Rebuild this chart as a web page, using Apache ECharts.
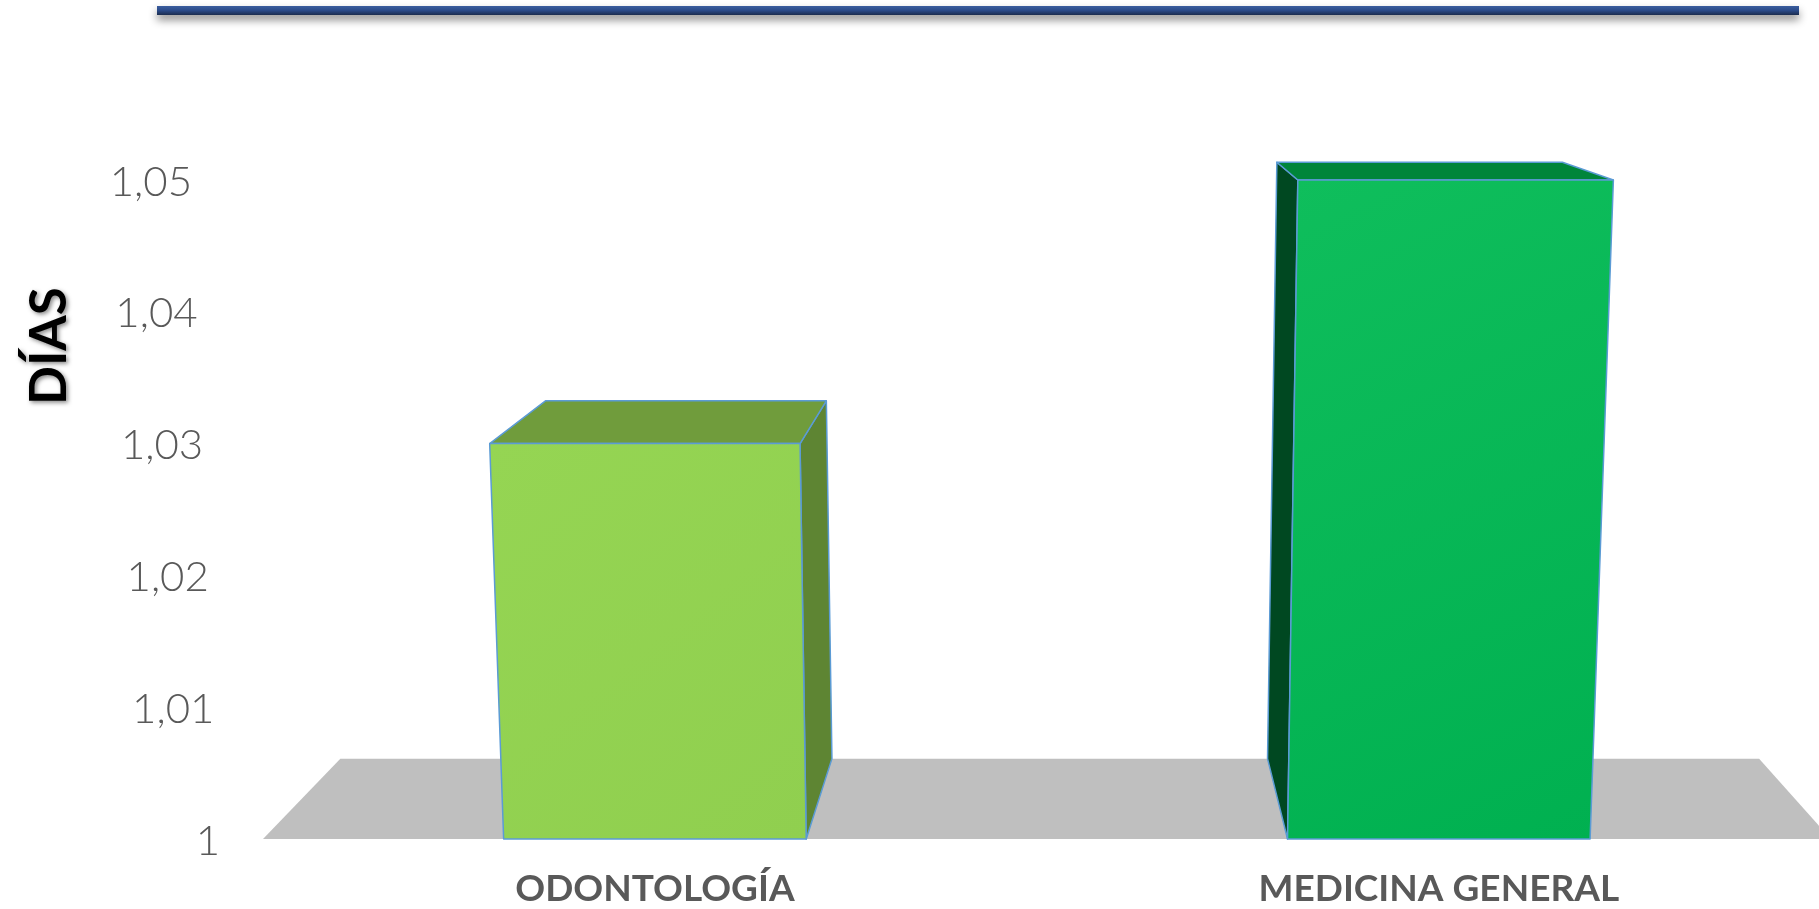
<!DOCTYPE html>
<html>
<head>
<meta charset="utf-8">
<title>Días</title>
<script src="https://cdn.jsdelivr.net/npm/echarts@6/dist/echarts.min.js"></script>
<style>
  html, body { margin: 0; padding: 0; background: #ffffff; overflow: hidden; }
  #chart { width: 1819px; height: 909px; }
</style>
</head>
<body>
<div id="chart"></div>
<script>
// Categories and values (days)
const categories = ['ODONTOLOGÍA', 'MEDICINA GENERAL'];
const values = [1.03, 1.05];
const yTickLabels = ['1', '1,01', '1,02', '1,03', '1,04', '1,05'];
const yMin = 1, yMax = 1.05, yStep = 0.01;

// Box colours per category: front, top, side
const frontTop = ['#95D553', '#0FBE5C'];
const frontBottom = ['#90CF4F', '#00B050'];
const topColor = ['#709C3C', '#00853A'];
const sideColor = ['#5E8533', '#004821'];
const edgeColor = '#5B9BD5';

// Category slots on a numeric x scale; the floor runs a little past the right edge
const xMin = -0.5, xMax = 1.485, floorEnd = 1.5;

// Simple perspective: vertical edges lean outward, depth recedes to a vanishing point
const TILT = 6.5e-5;   // horizontal lean per pixel of height, per pixel from centre
const DEPTH = 0.095;   // fraction of the way toward the vanishing point

function perspective(api, cs) {
  const left = api.coord([xMin, yMin])[0];
  const right = api.coord([floorEnd, yMin])[0];
  const cx = (left + right) / 2;
  const vp = [cx + 30, cs.y - 187];
  return {
    cx, left, right,
    back: p => [p[0] + (vp[0] - p[0]) * DEPTH, p[1] + (vp[1] - p[1]) * DEPTH],
    vpx: vp[0]
  };
}

const chart = echarts.init(document.getElementById('chart'));

const option = {
  backgroundColor: '#ffffff',
  animation: false,
  grid: { left: 263, top: 180, right: 0, bottom: 66, containLabel: false },
  xAxis: {
    type: 'value',
    min: xMin,
    max: xMax,
    axisLine: { show: false },
    axisTick: { show: false },
    splitLine: { show: false },
    axisLabel: {
      customValues: categories.map((c, i) => i),
      formatter: v => categories[Math.round(v)],
      margin: 30,
      color: '#595959',
      fontFamily: 'Lato',
      fontWeight: 'bold',
      fontSize: 37,
      lineHeight: 40
    }
  },
  yAxis: {
    type: 'value',
    min: yMin,
    max: yMax,
    interval: yStep,
    axisLine: { show: false },
    axisTick: { show: false },
    splitLine: { show: false },
    axisLabel: {
      margin: 43,
      formatter: function (value) {
        const i = Math.round((value - yMin) / yStep);
        return '{p' + i + '|' + yTickLabels[i] + '}';
      },
      rich: (function () {
        const r = {};
        for (let i = 0; i < yTickLabels.length; i++) {
          r['p' + i] = {
            color: '#595959',
            fontFamily: 'Lato',
            fontWeight: 300,
            fontSize: 42,
            padding: [4, 5.6 * i, 0, 0]
          };
        }
        return r;
      })()
    }
  },
  graphic: [
    {
      type: 'rect',
      left: 157,
      top: 6,
      shape: { width: 1642, height: 9 },
      style: {
        fill: new echarts.graphic.LinearGradient(0, 0, 0, 1, [
          { offset: 0, color: '#3B5D9E' },
          { offset: 0.5, color: '#2A4A88' },
          { offset: 1, color: '#1B2C4E' }
        ]),
        shadowBlur: 8,
        shadowOffsetY: 5,
        shadowColor: 'rgba(0,0,0,0.45)'
      },
      z: 10
    },
    {
      type: 'text',
      x: 50,
      y: 346,
      rotation: Math.PI / 2,
      style: {
        text: 'DÍAS',
        fill: '#000000',
        font: 'bold 51px Lato',
        align: 'center',
        verticalAlign: 'middle',
        textShadowColor: 'rgba(0,0,0,0.45)',
        textShadowBlur: 4,
        textShadowOffsetX: 2,
        textShadowOffsetY: 2
      },
      z: 10
    }
  ],
  series: [
    {
      // floor of the plot area
      type: 'custom',
      z: 1,
      clip: false,
      data: [[0, yMin]],
      renderItem: function (params, api) {
        const cs = params.coordSys;
        const p = perspective(api, cs);
        const yb = cs.y + cs.height;
        const bl = [p.left, yb];
        const br = [p.right, yb];
        return {
          type: 'polygon',
          shape: { points: [bl, br, p.back(br), p.back(bl)] },
          style: { fill: '#BFBFBF' }
        };
      }
    },
    {
      // 3D boxes
      type: 'custom',
      z: 2,
      clip: false,
      data: values.map((v, i) => [i, v]),
      encode: { x: 0, y: 1 },
      renderItem: function (params, api) {
        const i = api.value(0);
        const v = api.value(1);
        const cs = params.coordSys;
        const p = perspective(api, cs);
        const base = api.coord([i, yMin]);
        const top = api.coord([i, v]);
        const bw = api.size([1, 0])[0] * 0.386;
        const h = base[1] - top[1];
        const lean = x => x + (x - p.cx) * TILT * h;
        const bl = [base[0] - bw / 2, base[1]];
        const br = [base[0] + bw / 2, base[1]];
        const tl = [lean(bl[0]), top[1]];
        const tr = [lean(br[0]), top[1]];
        const edge = { stroke: edgeColor, lineWidth: 1.5, lineJoin: 'round' };
        const side = base[0] < p.vpx
          ? [tr, p.back(tr), p.back(br), br]
          : [tl, p.back(tl), p.back(bl), bl];
        return {
          type: 'group',
          children: [
            {
              type: 'polygon',
              shape: { points: side },
              style: Object.assign({ fill: sideColor[i] }, edge)
            },
            {
              type: 'polygon',
              shape: { points: [tl, tr, p.back(tr), p.back(tl)] },
              style: Object.assign({ fill: topColor[i] }, edge)
            },
            {
              type: 'polygon',
              shape: { points: [tl, tr, br, bl] },
              style: Object.assign({
                fill: new echarts.graphic.LinearGradient(0, 0, 1, 1, [
                  { offset: 0, color: frontTop[i] },
                  { offset: 1, color: frontBottom[i] }
                ])
              }, edge)
            }
          ]
        };
      }
    }
  ]
};

chart.setOption(option);
</script>
</body>
</html>
